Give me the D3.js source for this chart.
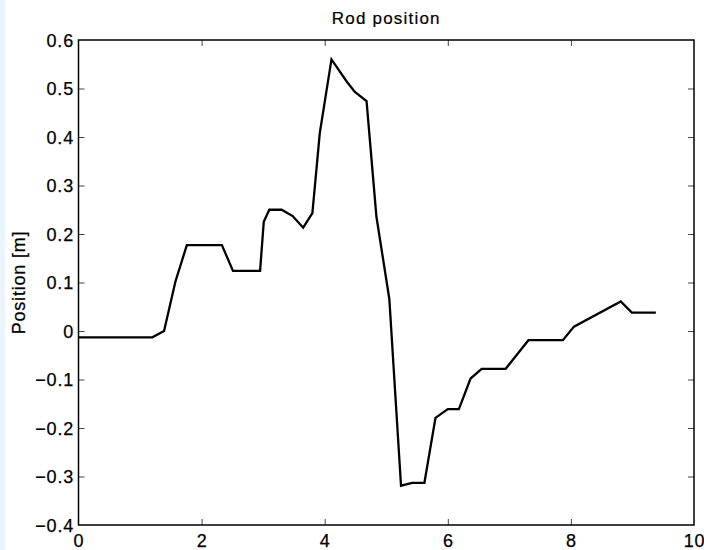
<!DOCTYPE html>
<html>
<head>
<meta charset="utf-8">
<script src="https://cdn.jsdelivr.net/npm/d3@7"></script>
<style>
  html, body { margin: 0; padding: 0; background: #ffffff; }
  svg { display: block; }
  text { font-family: "Liberation Sans", Arial, sans-serif; fill: #000; }
</style>
</head>
<body>
<svg id="chart" width="704" height="550"></svg>
<script>
// ---- data ----
const timeValues = [0, 1.2, 1.39, 1.575, 1.76, 2.33, 2.51, 2.95, 3.01, 3.10, 3.30, 3.48, 3.65, 3.80, 3.92, 4.11, 4.36, 4.49, 4.68, 4.84, 5.05, 5.24, 5.42, 5.62, 5.80, 6.0, 6.18, 6.37, 6.55, 6.94, 7.31, 7.87, 8.05, 8.81, 8.99, 9.38];
const positionValues = [-0.013, -0.013, 0.0, 0.102, 0.177, 0.177, 0.124, 0.124, 0.225, 0.25, 0.25, 0.237, 0.213, 0.243, 0.408, 0.56, 0.514, 0.493, 0.474, 0.236, 0.066, -0.319, -0.313, -0.313, -0.179, -0.161, -0.161, -0.098, -0.078, -0.078, -0.019, -0.019, 0.009, 0.061, 0.038, 0.038];
const xTickValues = [0, 2, 4, 6, 8, 10];
const yTickValues = [-0.4, -0.3, -0.2, -0.1, 0, 0.1, 0.2, 0.3, 0.4, 0.5, 0.6];
const titleText = "Rod position";
const yLabelText = "Position [m]";

const svg = d3.select("#chart");
const W = 704, H = 550;
const mLeft = 78.5, mRight = 694, mTop = 40, mBottom = 525;

// pale strip on left edge
svg.append("rect").attr("x", 0).attr("y", 0).attr("width", 5).attr("height", H).attr("fill", "#ecf4fd");

const x = d3.scaleLinear().domain([0, 10]).range([mLeft, mRight]);
const y = d3.scaleLinear().domain([-0.4, 0.6]).range([mBottom, mTop]);

const fmtY = v => (v < -1e-9 ? "\u2212" : "") + (Math.abs(v) < 1e-9 ? "0" : d3.format(".1f")(Math.abs(v)));
const tickLen = 6;
const lsp = "0.8px";
const fs = "18px";

const axB = svg.append("g").attr("transform", `translate(0,${mBottom})`)
  .call(d3.axisBottom(x).tickValues(xTickValues).tickSizeInner(-tickLen).tickSizeOuter(0).tickPadding(9).tickFormat(d3.format("d")));
const axT = svg.append("g").attr("transform", `translate(0,${mTop})`)
  .call(d3.axisTop(x).tickValues(xTickValues).tickSizeInner(-tickLen).tickSizeOuter(0).tickFormat(""));
const axL = svg.append("g").attr("transform", `translate(${mLeft},0)`)
  .call(d3.axisLeft(y).tickValues(yTickValues).tickSizeInner(-tickLen).tickSizeOuter(0).tickPadding(4.5).tickFormat(fmtY));
const axR = svg.append("g").attr("transform", `translate(${mRight},0)`)
  .call(d3.axisRight(y).tickValues(yTickValues).tickSizeInner(-tickLen).tickSizeOuter(0).tickFormat(""));

[axB, axT, axL, axR].forEach(g => {
  g.select(".domain").remove();
  g.selectAll(".tick line").attr("stroke", "#444").attr("stroke-width", 1);
  g.selectAll(".tick text")
    .style("font-family", '"Liberation Sans", Arial, sans-serif')
    .style("font-size", fs).style("letter-spacing", lsp).attr("fill", "#000")
    .attr("stroke", "#000").attr("stroke-width", 0.25);
});
const isEdgeX = d => d === 0 || d === 10;
const isEdgeY = d => Math.abs(d - 0.6) < 1e-9 || Math.abs(d + 0.4) < 1e-9;
axB.selectAll(".tick").filter(isEdgeX).select("line").remove();
axT.selectAll(".tick").filter(isEdgeX).select("line").remove();
axL.selectAll(".tick").filter(isEdgeY).select("line").remove();
axR.selectAll(".tick").filter(isEdgeY).select("line").remove();
axL.selectAll(".tick text").attr("dy", "0.36em");
axB.selectAll(".tick text").attr("dy", "0.71em");

// box
svg.append("rect").attr("x", mLeft).attr("y", mTop).attr("width", mRight - mLeft).attr("height", mBottom - mTop)
  .attr("fill", "none").attr("stroke", "#000").attr("stroke-width", 1.5);

// line
const line = d3.line().x((d, i) => x(timeValues[i])).y(d => y(d));
svg.append("path").datum(positionValues).attr("d", line)
  .attr("fill", "none").attr("stroke", "#000").attr("stroke-width", 2.3).attr("stroke-linejoin", "miter");

// title
svg.append("text").attr("x", (mLeft + mRight) / 2).attr("y", 23.5).attr("text-anchor", "middle")
  .style("font-size", "17px").style("letter-spacing", "1.2px")
  .attr("stroke", "#000").attr("stroke-width", 0.2).text(titleText);

// y label
svg.append("text").attr("transform", `translate(25,${(mTop + mBottom) / 2}) rotate(-90)`)
  .attr("text-anchor", "middle").style("font-size", fs).style("letter-spacing", lsp)
  .attr("stroke", "#000").attr("stroke-width", 0.25).text(yLabelText);
</script>
</body>
</html>
